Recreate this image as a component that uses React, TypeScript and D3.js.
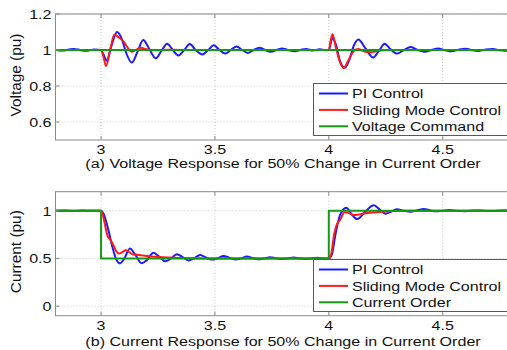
import React from "react";
import * as d3 from "d3";

// ---------- data ----------
const xTicks = [3, 3.5, 4, 4.5];
const vTicks = [0.6, 0.8, 1, 1.2];
const iTicks = [0, 0.5, 1];

const vPI: [number, number][] = [
  [2.80,1.000],[2.83,0.997],[2.86,1.003],[2.88,1.006],[2.91,0.999],[2.94,0.996],[2.97,1.003],[3.00,1.000],
  [3.012,0.972],[3.025,0.940],[3.045,1.020],[3.07,1.100],[3.09,1.065],[3.11,0.985],[3.135,0.930],[3.16,0.990],
  [3.185,1.056],[3.21,1.010],[3.24,0.954],[3.265,0.995],[3.29,1.035],[3.315,1.000],[3.34,0.970],[3.365,1.000],
  [3.39,1.033],[3.415,1.000],[3.445,0.975],[3.47,1.000],[3.495,1.026],[3.52,1.000],[3.545,0.980],[3.57,1.000],
  [3.595,1.020],[3.62,1.000],[3.645,0.984],[3.67,1.000],[3.695,1.013],[3.72,1.000],[3.745,0.990],[3.77,1.000],
  [3.795,1.009],[3.82,1.000],[3.85,0.993],[3.875,1.000],[3.90,1.006],[3.93,0.997],[3.96,1.004],[3.985,0.999],
  [4.00,1.000],[4.015,1.065],[4.03,1.035],[4.05,0.935],[4.07,0.902],[4.09,0.945],[4.11,1.025],[4.13,1.058],
  [4.16,1.010],[4.195,0.958],[4.22,0.995],[4.245,1.035],[4.27,1.005],[4.30,0.980],[4.33,1.000],[4.36,1.017],
  [4.39,1.000],[4.42,0.990],[4.45,1.000],[4.48,1.009],[4.51,0.999],[4.54,0.993],[4.57,1.002],[4.60,1.007],
  [4.63,0.999],[4.66,0.995],[4.69,1.003],[4.72,1.006],[4.75,0.998],[4.78,0.996],[4.80,1.000],
];

const vSMC: [number, number][] = [
  [2.80,1.000],[3.00,1.000],[3.010,0.965],[3.022,0.911],[3.040,1.000],[3.058,1.085],[3.080,1.068],[3.100,1.045],
  [3.120,1.008],[3.135,0.990],[3.155,1.002],[3.175,1.012],[3.200,1.004],[3.230,0.999],[3.300,1.001],[3.400,1.000],
  [4.000,1.000],[4.008,1.050],[4.016,1.087],[4.030,1.020],[4.050,0.930],[4.065,0.900],[4.085,0.940],[4.110,0.995],
  [4.130,1.006],[4.160,0.990],[4.190,0.988],[4.220,0.996],[4.260,1.000],[4.800,1.000],
];

const vCmd: [number, number][] = [[2.8, 1], [4.8, 1]];

const iPI: [number, number][] = [
  [2.80,1.000],[2.84,1.004],[2.88,0.998],[2.92,1.003],[2.96,0.999],[3.00,1.000],[3.010,0.975],[3.030,0.820],
  [3.050,0.620],[3.065,0.500],[3.083,0.448],[3.100,0.490],[3.127,0.605],[3.150,0.540],[3.178,0.450],[3.200,0.480],
  [3.230,0.560],[3.255,0.520],[3.281,0.470],[3.305,0.495],[3.333,0.545],[3.358,0.515],[3.384,0.480],[3.408,0.500],
  [3.435,0.537],[3.46,0.510],[3.487,0.488],[3.51,0.500],[3.538,0.525],[3.563,0.508],[3.589,0.490],[3.614,0.500],
  [3.640,0.520],[3.665,0.505],[3.69,0.492],[3.715,0.500],[3.742,0.513],[3.767,0.503],[3.793,0.494],[3.82,0.500],
  [3.845,0.510],[3.87,0.502],[3.895,0.495],[3.92,0.500],[3.95,0.507],[3.975,0.499],[4.000,0.500],[4.012,0.530],
  [4.030,0.760],[4.050,0.960],[4.077,1.032],[4.100,0.965],[4.124,0.913],[4.160,0.990],[4.197,1.058],[4.225,1.010],
  [4.248,0.970],[4.275,0.992],[4.300,1.015],[4.330,1.000],[4.358,0.990],[4.390,1.005],[4.417,1.018],[4.445,1.004],
  [4.470,0.994],[4.50,1.000],[4.53,1.007],[4.56,0.999],[4.60,0.996],[4.64,1.004],[4.68,1.000],[4.72,0.997],
  [4.76,1.003],[4.80,1.000],
];

const iSMC: [number, number][] = [
  [2.80,1.000],[3.000,1.000],[3.006,0.975],[3.015,0.880],[3.028,0.740],[3.040,0.700],[3.052,0.650],[3.065,0.585],
  [3.078,0.552],[3.093,0.565],[3.108,0.587],[3.122,0.570],[3.138,0.545],[3.160,0.540],[3.185,0.530],[3.22,0.520],
  [3.27,0.513],[3.32,0.508],[3.40,0.503],[3.50,0.500],[4.000,0.500],[4.010,0.540],[4.024,0.760],[4.036,0.860],
  [4.050,0.905],[4.068,0.985],[4.085,0.978],[4.110,0.955],[4.140,0.965],[4.180,0.980],[4.230,0.990],[4.300,1.000],
  [4.800,1.000],
];

const iOrder: [number, number][] = [[2.8, 1], [3, 1], [3, 0.5], [4, 0.5], [4, 1], [4.8, 1]];

const legendTop = ["PI Control", "Sliding Mode Control", "Voltage Command"];
const legendBottom = ["PI Control", "Sliding Mode Control", "Current Order"];
const titleTop = "(a) Voltage Response for 50% Change in Current Order";
const titleBottom = "(b) Current Response for 50% Change in Current Order";

// ---------- styles ----------
const W = 507, H = 350;
const FONT = "'Liberation Sans', Arial, Helvetica, sans-serif";
const FS = 13.5;
const SX = 1.19;
const BLUE = "#1a1aff";
const RED = "#ff1a1a";
const GREEN = "#159a15";
const COLORS = [BLUE, RED, GREEN];
const AXIS = "#8a8a8a";
const GRID = "#c8c8c8";
const TXT = "#111";

const x = d3.scaleLinear().domain([2.8, 4.8]).range([55.5, 511]);

interface PanelProps {
  y: d3.ScaleLinear<number, number>;
  yTicks: number[];
  series: [number, number][][];
  curves: d3.CurveFactory[];
  legend: string[];
  legendTop: number;
  ylabel: string;
  title: string;
  tickBase: number;
  titleBase: number;
  id: string;
}

const ST = ({ x0, y0, anchor, children }: any) => (
  <text
    transform={`translate(${x0},${y0}) scale(${SX},1)`}
    textAnchor={anchor}
    fontFamily={FONT}
    fontSize={FS}
    fill={TXT}
  >
    {children}
  </text>
);

function Panel(p: PanelProps) {
  const [y0, y1] = p.y.range();
  const top = y1, bottom = y0;
  const left = x.range()[0], right = x.range()[1];
  const fmt = (v: number) => String(v);
  return (
    <g>
      <defs>
        <clipPath id={p.id}>
          <rect x={left} y={top} width={right - left} height={bottom - top} />
        </clipPath>
      </defs>
      <rect x={left} y={top} width={right - left} height={bottom - top} fill="white" />
      {xTicks.map((t) => (
        <line key={"gx" + t} x1={x(t)} x2={x(t)} y1={top} y2={bottom} stroke={GRID} strokeWidth={1} strokeDasharray="1,2" />
      ))}
      {p.yTicks.map((t) => (
        <line key={"gy" + t} x1={left} x2={right} y1={p.y(t)} y2={p.y(t)} stroke={GRID} strokeWidth={1} strokeDasharray="1,2" />
      ))}
      <g clipPath={`url(#${p.id})`}>
        {p.series.map((s, i) => {
          const line = d3
            .line<[number, number]>()
            .x((d) => x(d[0]))
            .y((d) => p.y(d[1]))
            .curve(p.curves[i]);
          return (
            <path key={i} d={line(s) || ""} fill="none" stroke={COLORS[i]} strokeWidth={2} strokeLinejoin="round" />
          );
        })}
      </g>
      <rect x={left} y={top} width={right - left} height={bottom - top} fill="none" stroke={AXIS} strokeWidth={1} />
      {xTicks.map((t) => (
        <g key={"tx" + t}>
          <line x1={x(t)} x2={x(t)} y1={bottom} y2={bottom - 4} stroke={AXIS} />
          <line x1={x(t)} x2={x(t)} y1={top} y2={top + 4} stroke={AXIS} />
          <ST x0={x(t)} y0={p.tickBase} anchor="middle">{fmt(t)}</ST>
        </g>
      ))}
      {p.yTicks.map((t) => (
        <g key={"ty" + t}>
          <line x1={left} x2={left + 4} y1={p.y(t)} y2={p.y(t)} stroke={AXIS} />
          <ST x0={51.5} y0={p.y(t) + 4.8} anchor="end">{fmt(t)}</ST>
        </g>
      ))}
      <text
        transform={`translate(21,${(top + bottom) / 2 - 2}) rotate(-90)`}
        textAnchor="middle"
        fontFamily={FONT}
        fontSize={14.5}
        fill={TXT}
        textLength={83}
        lengthAdjust="spacingAndGlyphs"
      >
        {p.ylabel}
      </text>
      <ST x0={283} y0={p.titleBase} anchor="middle">{p.title}</ST>
      {/* legend */}
      <rect x={313.5} y={p.legendTop} width={200} height={52} fill="white" stroke="#5a5a5a" strokeWidth={1} />
      {p.legend.map((name, i) => {
        const cy = p.legendTop + 10 + i * 16.4;
        return (
          <g key={name}>
            <line x1={319} x2={348} y1={cy} y2={cy} stroke={COLORS[i]} strokeWidth={2} />
            <ST x0={352} y0={cy + 4.8} anchor="start">{name}</ST>
          </g>
        );
      })}
    </g>
  );
}

export default function App() {
  const yV = d3.scaleLinear().domain([0.5, 1.2]).range([140, 14]);
  const yI = d3.scaleLinear().domain([-0.1, 1.2]).range([315.7, 191.7]);
  const smooth = d3.curveMonotoneX;
  return (
    <svg
      width={W}
      height={H}
      viewBox={`0 0 ${W} ${H}`}
      style={{ position: "absolute", left: 0, top: 0, background: "white" }}
    >
      <rect x={0} y={0} width={W} height={H} fill="white" />
      <Panel
        id="clipV"
        y={yV}
        yTicks={vTicks}
        series={[vPI, vSMC, vCmd]}
        curves={[smooth, smooth, d3.curveLinear]}
        legend={legendTop}
        legendTop={83.5}
        ylabel="Voltage (pu)"
        title={titleTop}
        tickBase={154}
        titleBase={168}
      />
      <Panel
        id="clipI"
        y={yI}
        yTicks={iTicks}
        series={[iPI, iSMC, iOrder]}
        curves={[smooth, smooth, d3.curveLinear]}
        legend={legendBottom}
        legendTop={259.5}
        ylabel="Current (pu)"
        title={titleBottom}
        tickBase={330}
        titleBase={345.5}
      />
    </svg>
  );
}
